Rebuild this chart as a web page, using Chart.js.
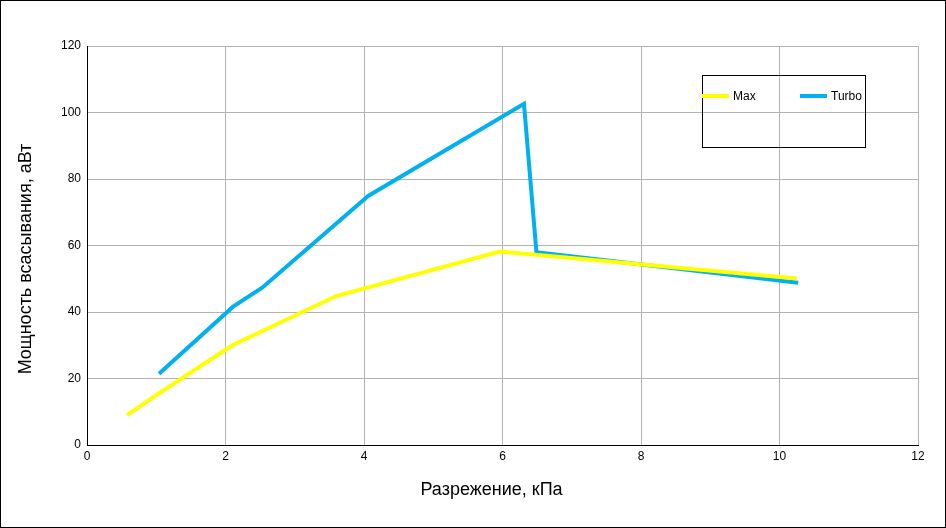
<!DOCTYPE html>
<html>
<head>
<meta charset="utf-8">
<script src="https://cdn.jsdelivr.net/npm/chart.js@4/dist/chart.umd.min.js"></script>
<style>
  html, body { margin: 0; padding: 0; background: #fff; }
  #wrap { width: 946px; height: 528px; position: relative; }
</style>
</head>
<body>
<div id="wrap"><canvas id="chart" width="946" height="528"></canvas></div>
<script>
// ── Data ───────────────────────────────────────────────
const maxX   = [0.58, 1.0, 2.1, 3.6, 5.96, 10.25];
const maxY   = [9.0, 15.0, 30.0, 44.8, 58.2, 50.1];
const turboX = [1.04, 2.11, 2.53, 4.06, 6.31, 6.49, 10.27];
const turboY = [21.4, 41.6, 47.3, 74.9, 102.6, 58.0, 48.8];

const xTitle = 'Разрежение, кПа';
const yTitle = 'Мощность всасывания, аВт';

const FONT = '"Liberation Sans", Arial, sans-serif';

const toPoints = (xs, ys) => xs.map((x, i) => ({ x, y: ys[i] }));

// ── Extras: frame, axis titles, boxed legend ───────────
const extras = {
  id: 'extras',
  afterDraw(chart) {
    const ctx = chart.ctx;
    ctx.save();

    ctx.strokeStyle = '#000';
    ctx.lineWidth = 1;
    ctx.strokeRect(0.5, 0.5, chart.width - 1, chart.height - 1);

    ctx.fillStyle = '#000';
    ctx.font = '18px ' + FONT;
    ctx.textAlign = 'center';
    ctx.textBaseline = 'middle';
    ctx.fillText(xTitle, 491.5, 490);

    ctx.translate(26, 259);
    ctx.rotate(-Math.PI / 2);
    ctx.fillText(yTitle, 0, 0);
    ctx.setTransform(1, 0, 0, 1, 0, 0);

    // legend box
    ctx.strokeRect(702.5, 75.5, 163, 72);
    ctx.font = '12px ' + FONT;
    ctx.textAlign = 'left';
    const slots = [702, 800];
    chart.data.datasets.forEach((ds, i) => {
      const x0 = slots[i];
      ctx.strokeStyle = ds.borderColor;
      ctx.lineWidth = 4;
      ctx.beginPath();
      ctx.moveTo(x0, 96);
      ctx.lineTo(x0 + 27, 96);
      ctx.stroke();
      ctx.fillStyle = '#000';
      ctx.fillText(ds.label, x0 + 31, 97);
    });
    ctx.restore();
  }
};

// ── Chart ──────────────────────────────────────────────
new Chart(document.getElementById('chart'), {
  type: 'line',
  data: {
    datasets: [
      { label: 'Max',   data: toPoints(maxX, maxY),     borderColor: '#FFFF00' },
      { label: 'Turbo', data: toPoints(turboX, turboY), borderColor: '#00B0F0' },
    ],
  },
  options: {
    responsive: false,
    animation: false,
    elements: {
      line: { borderWidth: 4, tension: 0, fill: false },
      point: { radius: 0, hoverRadius: 0 },
    },
    layout: { padding: { left: 0, top: 46, right: 28, bottom: 0 } },
    plugins: { legend: { display: false }, tooltip: { enabled: false } },
    scales: {
      x: {
        type: 'linear',
        min: 0, max: 12,
        ticks: { stepSize: 2, color: '#000', font: { family: FONT, size: 12 }, padding: 4, maxRotation: 0 },
        grid: { color: '#b3b3b3', drawTicks: false },
        border: { color: '#000', width: 1 },
        afterFit: s => { s.height = 83; },
      },
      y: {
        min: 0, max: 120,
        ticks: { stepSize: 20, color: '#000', font: { family: FONT, size: 12 }, padding: 6 },
        grid: { color: '#b3b3b3', drawTicks: false },
        border: { color: '#000', width: 1 },
        afterFit: s => { s.width = 87; },
      },
    },
  },
  plugins: [extras],
});
</script>
</body>
</html>
